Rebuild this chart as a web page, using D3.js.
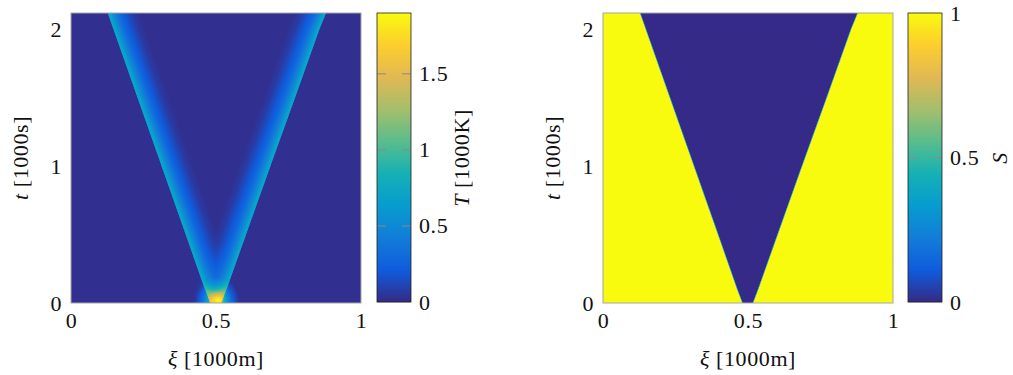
<!DOCTYPE html>
<html>
<head>
<meta charset="utf-8">
<script src="https://cdn.jsdelivr.net/npm/d3@7"></script>
<style>
  body { margin: 0; background: #fff; }
</style>
</head>
<body>
<svg id="chart" width="1013" height="375"></svg>
<script>
// tick labels
const xiTicks = [0, 0.5, 1];
const tTicks = [0, 1, 2];
const tempTicks = [0, 0.5, 1, 1.5];
const satTicks = [0, 0.5, 1];

// outer edge of the burning zone
const frontT = [0, 0.1, 0.5, 1, 1.5, 2, 2.12];
const frontLeft = [0.481, 0.463, 0.397, 0.314, 0.231, 0.148, 0.128];
const frontRight = [0.517, 0.535, 0.602, 0.686, 0.771, 0.855, 0.878];

// temperature [1000K] behind the front, by distance into the V
const profileDepth = [-0.003, 0, 0.006, 0.012, 0.02, 0.03, 0.045, 0.065, 0.085, 0.11];
const profileTemp = [0, 0.7, 0.68, 0.57, 0.46, 0.35, 0.23, 0.13, 0.05, 0];

// ignition spot near xi = 0.5, t = 0
const spotRadius = [0, 0.01, 0.02, 0.032, 0.05, 0.075];
const spotTemp = [1.2, 1.05, 0.8, 0.45, 0.18, 0];
const spotAt = [0.503, 0.025];

const tempBg = 0.02;
const tempMax = 1.9;
const tMax = 2.12;

// parula
const parula = ["#352a87", "#0f5cdd", "#127dd8", "#079ccf", "#15b1b4",
  "#59bd8c", "#a5be6b", "#e1b952", "#fcce2e", "#f9fb0e"];

const font = "'Liberation Serif', 'DejaVu Serif', serif";
const svg = d3.select("#chart");
const mt = 13, mb = 303, size = 290;

function colormap(max) {
  return d3.scaleLinear()
    .domain(parula.map((_, i) => i / (parula.length - 1) * max))
    .range(parula)
    .clamp(true);
}

const fL = d3.scaleLinear(frontT, frontLeft);
const fR = d3.scaleLinear(frontT, frontRight);
const prof = d3.scaleLinear(profileDepth, profileTemp).clamp(true);
const spot = d3.scaleLinear(spotRadius, spotTemp).clamp(true);
const edge = d3.scaleLinear([-0.0025, 0.0025], [1, 0]).clamp(true);

function panel(left, cbLeft, cbMax, cbTicks, field, label) {
  const x = d3.scaleLinear([0, 1], [left, left + size]);
  const y = d3.scaleLinear([0, tMax], [mb, mt]);
  const color = colormap(cbMax);

  // field as image
  const canvas = document.createElement("canvas");
  canvas.width = size; canvas.height = size;
  const ctx = canvas.getContext("2d");
  const img = ctx.createImageData(size, size);
  const pxXi = x(1) - x(0);
  for (let j = 0; j < size; j++) {
    const t = y.invert(mt + j + 0.5);
    const L = fL(t), R = fR(t);
    for (let i = 0; i < size; i++) {
      const xi = x.invert(left + i + 0.5);
      const c = d3.rgb(color(field(xi, t, L, R, (y(spotAt[1]) - y(t)) / pxXi)));
      const k = (j * size + i) * 4;
      img.data[k] = c.r; img.data[k + 1] = c.g; img.data[k + 2] = c.b; img.data[k + 3] = 255;
    }
  }
  ctx.putImageData(img, 0, 0);
  svg.append("image")
    .attr("x", left).attr("y", mt)
    .attr("width", size).attr("height", size)
    .attr("preserveAspectRatio", "none")
    .attr("href", canvas.toDataURL());

  svg.append("rect")
    .attr("x", left).attr("y", mt)
    .attr("width", size).attr("height", size)
    .attr("fill", "none").attr("stroke", "#a6a6a6");

  svg.append("g")
    .attr("transform", `translate(0,${mb})`)
    .call(d3.axisBottom(x).tickValues(xiTicks).tickFormat(d3.format("")).tickSize(0).tickPadding(9))
    .call(g => g.select(".domain").remove());

  svg.append("g")
    .attr("transform", `translate(${left},0)`)
    .call(d3.axisLeft(y).tickValues(tTicks).tickFormat(d3.format("")).tickSize(0).tickPadding(9))
    .call(g => g.select(".domain").remove());

  // axis titles
  const xl = svg.append("text")
    .attr("x", left + size / 2).attr("y", 366)
    .attr("text-anchor", "middle");
  xl.append("tspan").attr("font-style", "italic").text("ξ");
  xl.append("tspan").text(" [1000m]");

  const yl = svg.append("text")
    .attr("transform", `translate(${left - 43},${(mt + mb) / 2}) rotate(-90)`)
    .attr("text-anchor", "middle");
  yl.append("tspan").attr("font-style", "italic").text("t");
  yl.append("tspan").text(" [1000s]");

  // colorbar
  const cw = 34;
  const cy = d3.scaleLinear([0, cbMax], [mb - 1, mt]);
  svg.append("g")
    .selectAll("rect")
    .data(d3.range(mt, mb - 1))
    .join("rect")
    .attr("x", cbLeft).attr("y", d => d)
    .attr("width", cw).attr("height", 1.2)
    .attr("fill", d => color(cy.invert(d + 0.5)));

  svg.append("g")
    .selectAll("path")
    .data(cbTicks.filter(v => v > 0 && cy(v) > mt + 2))
    .join("path")
    .attr("d", v => `M${cbLeft},${cy(v)}h9M${cbLeft + cw - 9},${cy(v)}h9`)
    .attr("stroke", "#8a8a8a").attr("stroke-width", 1);

  svg.append("rect")
    .attr("x", cbLeft).attr("y", mt)
    .attr("width", cw).attr("height", mb - 1 - mt)
    .attr("fill", "none").attr("stroke", "#222").attr("stroke-width", 0.8);

  svg.append("g")
    .attr("transform", `translate(${cbLeft + cw},0)`)
    .call(d3.axisRight(cy).tickValues(cbTicks).tickFormat(d3.format("")).tickSize(0).tickPadding(8))
    .call(g => g.select(".domain").remove());

  const cl = svg.append("text")
    .attr("transform", `translate(${label.x},${(mt + mb) / 2}) rotate(-90)`)
    .attr("text-anchor", "middle");
  cl.append("tspan").attr("font-style", "italic").text(label.sym);
  if (label.unit) cl.append("tspan").text(" " + label.unit);
}

// temperature: the two fronts overlap near the tip
panel(71, 377, tempMax, tempTicks, (xi, t, L, R, dt) => {
  const a = prof(xi - L), b = prof(R - xi);
  const r = Math.hypot(xi - spotAt[0], dt);
  return tempBg + Math.max(a, b) + 0.45 * Math.min(a, b) + spot(r);
}, { x: 469, sym: "T", unit: "[1000K]" });

// saturation
panel(603, 908, 1, satTicks, (xi, t, L, R) => {
  return Math.max(edge(xi - L), edge(R - xi));
}, { x: 1007, sym: "S" });

svg.selectAll("text")
  .attr("font-family", font)
  .attr("font-size", 22)
  .attr("letter-spacing", 0.6)
  .attr("fill", "#111");
</script>
</body>
</html>
